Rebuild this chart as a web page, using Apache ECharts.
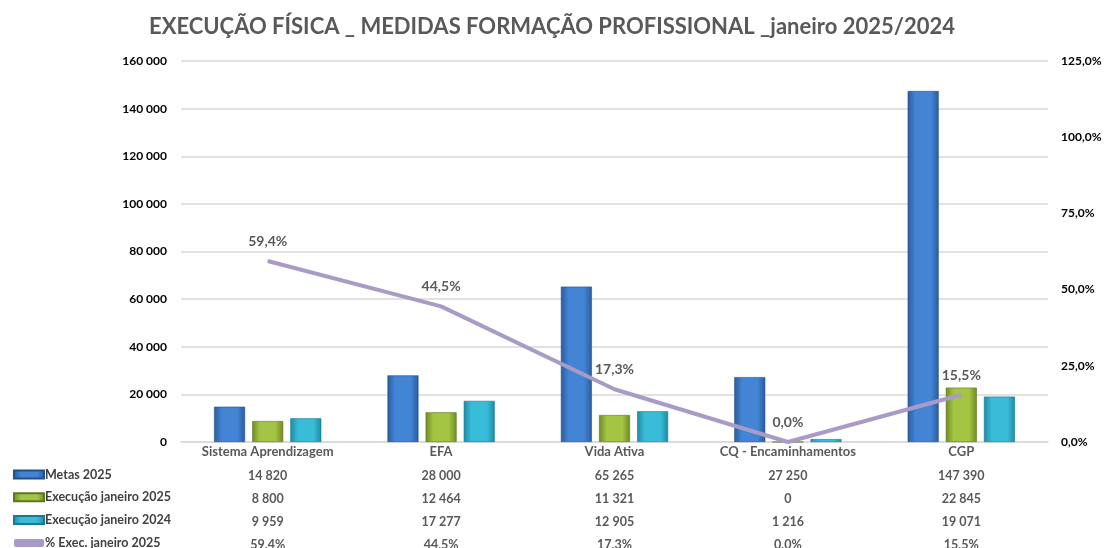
<!DOCTYPE html>
<html>
<head>
<meta charset="utf-8">
<script src="https://cdn.jsdelivr.net/npm/echarts@6/dist/echarts.min.js"></script>
<style>
  html, body { margin: 0; padding: 0; background: #fff; }
  #chart { width: 1109px; height: 548px; }
</style>
</head>
<body>
<div id="chart"></div>
<script>
// dados do gráfico
var categorias = ['Sistema Aprendizagem', 'EFA', 'Vida Ativa', 'CQ - Encaminhamentos', 'CGP']
var metas2025 = [14820, 28000, 65265, 27250, 147390]
var execJan2025 = [8800, 12464, 11321, 0, 22845]
var execJan2024 = [9959, 17277, 12905, 1216, 19071]
var pctExecJan2025 = [59.4, 44.5, 17.3, 0.0, 15.5]
var leftTicks = { min: 0, max: 160000, interval: 20000 }
var rightTicks = { min: 0, max: 125, interval: 25 }

var FONT = 'Lato, "Open Sans", sans-serif'
var GREY = '#595959'

function fmtNum(v) {
  return String(v).replace(/\B(?=(\d{3})+(?!\d))/g, ' ')
}
function fmtPct(v) {
  return v.toFixed(1).replace('.', ',') + '%'
}
function grad(dark, light) {
  return {
    type: 'linear', x: 0, y: 0, x2: 1, y2: 0,
    colorStops: [
      { offset: 0, color: dark },
      { offset: 0.25, color: light },
      { offset: 0.75, color: light },
      { offset: 1, color: dark }
    ]
  }
}

var rows = [
  { vals: metas2025, fmt: fmtNum },
  { vals: execJan2025, fmt: fmtNum },
  { vals: execJan2024, fmt: fmtNum },
  { vals: pctExecJan2025, fmt: fmtPct }
]

var xAxes = [{
  type: 'category',
  data: categorias,
  axisTick: { show: false },
  axisLine: { lineStyle: { color: '#d9d9d9', width: 1.5 } },
  axisLabel: { color: GREY, fontFamily: FONT, fontWeight: 'bold', fontSize: 13, margin: 3, interval: 0 }
}]
// linhas da tabela de dados, uma por eixo extra
rows.forEach(function (r, i) {
  xAxes.push({
    type: 'category',
    data: categorias,
    position: 'bottom',
    offset: 23 * (i + 1),
    axisTick: { show: false },
    axisLine: { show: false },
    axisLabel: {
      color: GREY, fontFamily: FONT, fontWeight: 'bold', fontSize: 12.5, margin: 4, interval: 0,
      formatter: function (v, idx) { return r.fmt(r.vals[idx]) }
    }
  })
})

var myChart = echarts.init(document.getElementById('chart'))
var option = {
  animation: false,
  title: {
    text: 'EXECUÇÃO FÍSICA _ MEDIDAS FORMAÇÃO PROFISSIONAL _janeiro 2025/2024',
    left: 144,
    top: 11,
    textStyle: { color: GREY, fontFamily: FONT, fontWeight: 'bold', fontSize: 22 }
  },
  legend: {
    orient: 'vertical',
    left: 8,
    top: 463,
    height: 120,
    itemWidth: 30,
    itemHeight: 8,
    itemGap: 9.8,
    textStyle: { color: '#404040', fontFamily: FONT, fontWeight: 'bold', fontSize: 12.5, padding: [0, 0, 0, -4] },
    data: [
      { name: 'Metas 2025', icon: 'rect' },
      { name: 'Execução janeiro 2025', icon: 'rect' },
      { name: 'Execução janeiro 2024', icon: 'rect' },
      { name: '% Exec. janeiro 2025', icon: 'roundRect' }
    ]
  },
  grid: { left: 181, right: 61, top: 61, bottom: 106, outerBoundsMode: 'none' },
  xAxis: xAxes,
  yAxis: [
    {
      type: 'value',
      min: leftTicks.min, max: leftTicks.max, interval: leftTicks.interval,
      axisLabel: { color: '#000', fontFamily: FONT, fontWeight: 'bold', fontSize: 12, margin: 14, formatter: fmtNum },
      splitLine: { lineStyle: { color: '#d9d9d9', width: 1.5 } }
    },
    {
      type: 'value',
      min: rightTicks.min, max: rightTicks.max, interval: rightTicks.interval,
      axisLabel: { color: '#000', fontFamily: FONT, fontWeight: 'bold', fontSize: 12, margin: 13, formatter: fmtPct },
      splitLine: { show: false }
    }
  ],
  series: [
    {
      name: 'Metas 2025', type: 'bar', data: metas2025,
      barWidth: 31, barGap: '23%',
      itemStyle: { color: grad('#2a5c9c', '#4384d4'), borderColor: '#23508a', borderWidth: 0.6 }
    },
    {
      name: 'Execução janeiro 2025', type: 'bar', data: execJan2025,
      barWidth: 31, barGap: '23%',
      itemStyle: { color: grad('#6f8a24', '#a3c543'), borderColor: '#5f7620', borderWidth: 0.6 }
    },
    {
      name: 'Execução janeiro 2024', type: 'bar', data: execJan2024,
      barWidth: 31, barGap: '23%',
      itemStyle: { color: grad('#1f8aa3', '#38bcd8'), borderColor: '#1a7890', borderWidth: 0.6 }
    },
    {
      name: '% Exec. janeiro 2025', type: 'line', yAxisIndex: 1, data: pctExecJan2025,
      symbol: 'circle',
      symbolSize: 1,
      showSymbol: true,
      z: 5,
      lineStyle: { color: '#a99bc8', width: 4 },
      itemStyle: { color: '#a99bc8' },
      label: {
        show: true, position: 'top', distance: 12,
        color: GREY, fontFamily: FONT, fontWeight: 'bold', fontSize: 14,
        formatter: function (p) { return fmtPct(p.value) }
      }
    }
  ]
}
myChart.setOption(option)
</script>
</body>
</html>
